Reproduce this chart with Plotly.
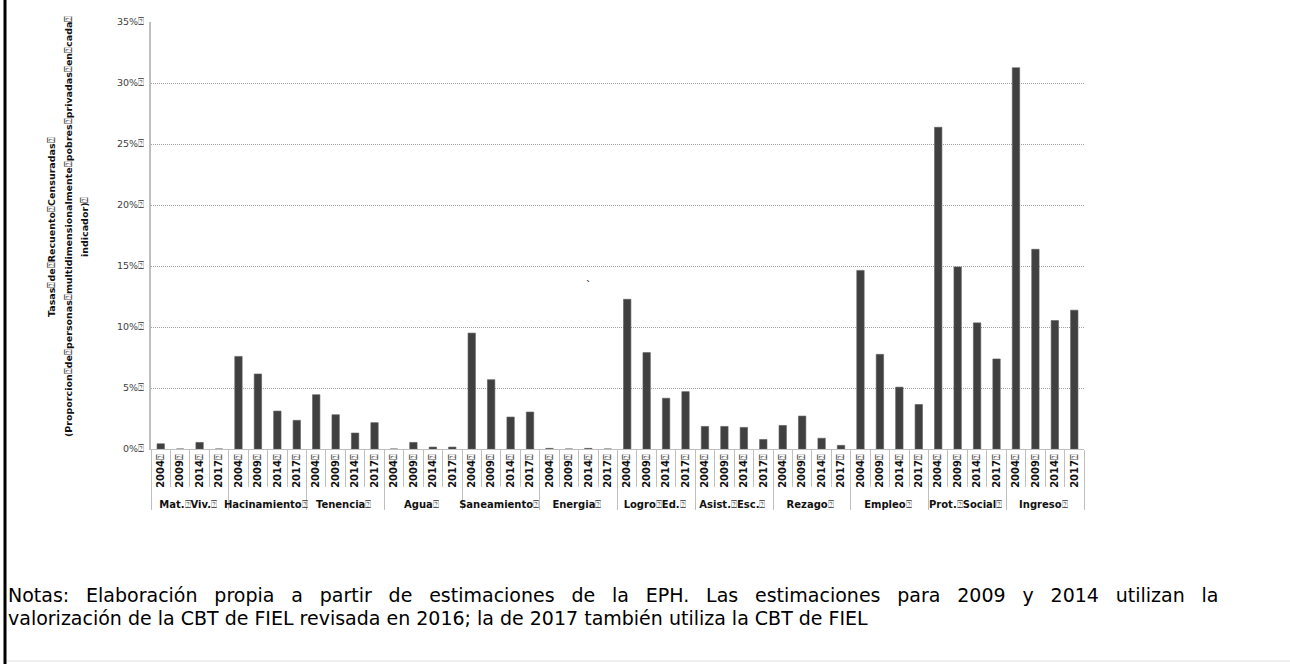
import plotly.graph_objects as go

B = '<span style="font-weight:normal;color:#555555">\u2370</span>'  # glyph shown in place of spaces in the original

groups = ["Mat." + B + "Viv." + B, "Hacinamiento" + B, "Tenencia" + B, "Agua" + B,
          "Saneamiento" + B, "Energia" + B, "Logro" + B + "Ed." + B, "Asist." + B + "Esc." + B,
          "Rezago" + B, "Empleo" + B, "Prot." + B + "Social" + B, "Ingreso" + B]
years = ["2004" + B, "2009" + B, "2014" + B, "2017" + B]

v_mat = [0.43, 0.0, 0.54, 0.0]
v_hac = [7.59, 6.15, 3.11, 2.35]
v_ten = [4.45, 2.81, 1.31, 2.16]
v_agua = [0.0, 0.54, 0.16, 0.16]
v_san = [9.5, 5.68, 2.62, 3.03]
v_ene = [0.05, 0.0, 0.05, 0.0]
v_log = [12.27, 7.9, 4.16, 4.7]
v_asi = [1.85, 1.85, 1.77, 0.78]
v_rez = [1.93, 2.70, 0.88, 0.30]
v_emp = [14.64, 7.76, 5.07, 3.65]
v_pro = [26.37, 14.92, 10.34, 7.38]
v_ing = [31.25, 16.37, 10.53, 11.38]

series = [v_mat, v_hac, v_ten, v_agua, v_san, v_ene, v_log, v_asi, v_rez, v_emp, v_pro, v_ing]

ytick_vals = [0, 5, 10, 15, 20, 25, 30, 35]
ytick_text = [f"{t}%" + B for t in ytick_vals]

ytitle_lines = [
    "Tasas" + B + "de" + B + "Recuento" + B + "Censuradas" + B,
    "(Proporcion" + B + "de" + B + "personas" + B + "multidimensionalmente" + B + "pobres" + B +
    "privadas" + B + "en" + B + "cada" + B,
    "indicador)" + B,
]

SP = " \u00a0\u2005"  # widened gaps to mimic the justified first line
note1_words = ["Notas:", "Elaboración", "propia", "a", "partir", "de", "estimaciones", "de", "la", "EPH.",
               "Las", "estimaciones", "para", "2009", "y", "2014", "utilizan", "la"]
note1 = SP.join(note1_words)
note2 = "valorización de la CBT de FIEL revisada en 2016; la de 2017 también utiliza la CBT de FIEL"

xo, xi, yv = [], [], []
for g, vals in zip(groups, series):
    for yr, v in zip(years, vals):
        xo.append(g)
        xi.append(yr)
        yv.append(v)

W, H = 1290, 664
ML, MR, MT, MB = 151, 206, 22, 215
PW, PH = W - ML - MR, H - MT - MB


def px(x):
    return (x - ML) / PW


def py(y):
    return (H - MB - y) / PH


fig = go.Figure()
fig.add_trace(go.Bar(x=[xo, xi], y=yv, marker=dict(color="#404040", line=dict(color="#5a5a5a", width=0.6)),
                     hoverinfo="skip"))

fig.update_layout(
    width=W, height=H, margin=dict(l=ML, r=MR, t=MT, b=MB, autoexpand=False),
    paper_bgcolor="white", plot_bgcolor="white", showlegend=False, bargap=0.62,
    font=dict(family="DejaVu Sans", color="#333333"),
)
fig.update_yaxes(range=[0, 35], tickvals=ytick_vals, ticktext=ytick_text,
                 tickfont=dict(size=9.5, color="#404040", family="DejaVu Sans"),
                 showgrid=True, gridcolor="#a0a0a0", griddash="1px,1px", gridwidth=1,
                 showline=True, linecolor="#bfbfbf", linewidth=2, zeroline=False,
                 ticks="", ticklabelstandoff=3)
fig.update_xaxes(type="multicategory", tickangle=-90,
                 tickfont=dict(size=10, color="#111111", family="DejaVu Sans", weight="bold"),
                 showline=True, linecolor="#bfbfbf", linewidth=1,
                 ticks="outside", tickson="boundaries", ticklen=37, tickcolor="#bfbfbf",
                 showdividers=True, dividercolor="#bfbfbf", dividerwidth=1)

for xc, line in zip([51, 68, 84], ytitle_lines):
    fig.add_annotation(text=line, textangle=-90, xref="paper", yref="paper",
                       x=px(xc), y=py(227), showarrow=False,
                       font=dict(size=9.5, color="#111111", family="DejaVu Sans", weight="bold"),
                       xanchor="center", yanchor="middle", align="center")
fig.add_annotation(text="`", xref="paper", yref="paper", x=px(588), y=py(285),
                   showarrow=False, font=dict(size=10, color="#000"))
fig.add_annotation(text=note1, xref="paper", yref="paper", x=px(6), y=py(595),
                   xanchor="left", yanchor="middle", showarrow=False,
                   font=dict(size=19, color="#000", family="DejaVu Sans"))
fig.add_annotation(text=note2, xref="paper", yref="paper", x=px(6), y=py(618),
                   xanchor="left", yanchor="middle", showarrow=False,
                   font=dict(size=19, color="#000", family="DejaVu Sans"))

# outer frame lines
fig.add_shape(type="line", xref="paper", yref="paper", x0=px(5), x1=px(5),
              y0=py(0), y1=py(664), line=dict(color="#000", width=3))
fig.add_shape(type="line", xref="paper", yref="paper", x0=px(7), x1=px(1290),
              y0=py(661), y1=py(661), line=dict(color="#e0e0e0", width=1))

fig.write_html("out.html", config={"displayModeBar": False},
               post_script="document.body.style.margin='0';document.body.style.overflow='hidden';")
